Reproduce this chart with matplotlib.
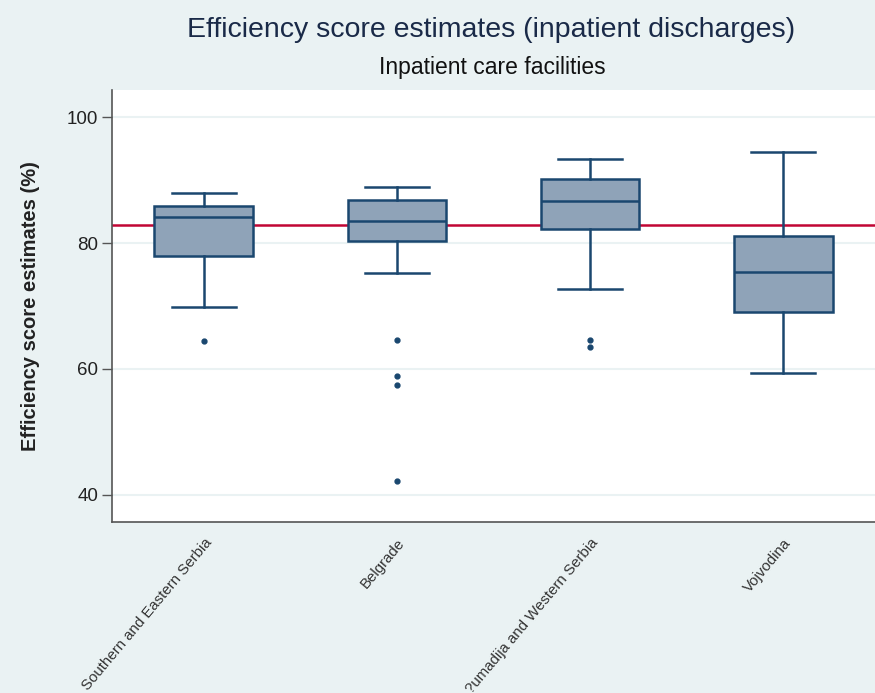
import matplotlib
matplotlib.use('Agg')
import matplotlib.pyplot as plt

# 数据
regions = ['Southern and Eastern Serbia', 'Belgrade', '?umadija and Western Serbia', 'Vojvodina']
whis_low = [69.8, 75.3, 72.7, 59.3]
q1 = [78.0, 80.4, 82.2, 69.0]
med = [84.2, 83.5, 86.6, 75.4]
q3 = [85.9, 86.8, 90.1, 81.1]
whis_high = [88.0, 88.9, 93.4, 94.4]
outliers = [[64.5], [64.6, 58.8, 57.5, 42.2], [64.6, 63.5], []]
ref_line = 82.9
yticks = [40, 60, 80, 100]

bg = '#eaf2f3'
navy = '#1a476f'
fill = '#8fa3b8'
font = 'Liberation Sans'

fig = plt.figure(figsize=(8.75, 6.93), dpi=100, facecolor=bg)
ax = fig.add_axes([0.128, 0.247, 0.872, 0.623])
ax.set_facecolor('white')

stats = []
for i in range(len(regions)):
    stats.append({'whislo': whis_low[i], 'q1': q1[i], 'med': med[i], 'q3': q3[i],
                  'whishi': whis_high[i], 'fliers': outliers[i], 'label': regions[i]})

for y in yticks:
    ax.axhline(y, color=bg, lw=1.5, zorder=0)
ax.axhline(ref_line, color='#c10534', lw=1.8, zorder=1)

ax.bxp(stats, positions=range(1, 5), widths=0.51, patch_artist=True,
       showfliers=True,
       boxprops=dict(facecolor=fill, edgecolor=navy, lw=1.8),
       medianprops=dict(color=navy, lw=1.8),
       whiskerprops=dict(color=navy, lw=1.8),
       capprops=dict(color=navy, lw=1.8),
       capwidths=0.33,
       flierprops=dict(marker='o', markersize=3.5, markerfacecolor=navy,
                       markeredgecolor=navy),
       zorder=2)

ax.set_xlim(0.525, 4.475)
ax.set_ylim(35.7, 104.3)
ax.set_yticks(yticks)
ax.set_yticklabels([str(v) for v in yticks], fontsize=13.5, color='#222222',
                   family=font)
ax.tick_params(axis='y', length=7, color='#555555', width=1, pad=3)
ax.tick_params(axis='x', length=0, pad=10)
ax.set_xticks(range(1, 5))
ax.set_xticklabels(regions, rotation=50, ha='right', rotation_mode='anchor',
                   fontsize=10.8, color='#333333', family=font)

for s in ['top', 'right']:
    ax.spines[s].set_visible(False)
for s in ['left', 'bottom']:
    ax.spines[s].set_color('#555555')
    ax.spines[s].set_linewidth(1.2)

ax.set_ylabel('Efficiency score estimates (%)', fontsize=14.5, fontweight='bold',
              family=font, color='#222222', labelpad=19)

fig.text(0.561, 0.957, 'Efficiency score estimates (inpatient discharges)',
         ha='center', va='center', fontsize=20.5, color='#1a2a48', family=font)
fig.text(0.563, 0.902, 'Inpatient care facilities', ha='center', va='center',
         fontsize=16.5, color='#111111', family=font)

fig.savefig('out.png', dpi=100, facecolor=bg)
